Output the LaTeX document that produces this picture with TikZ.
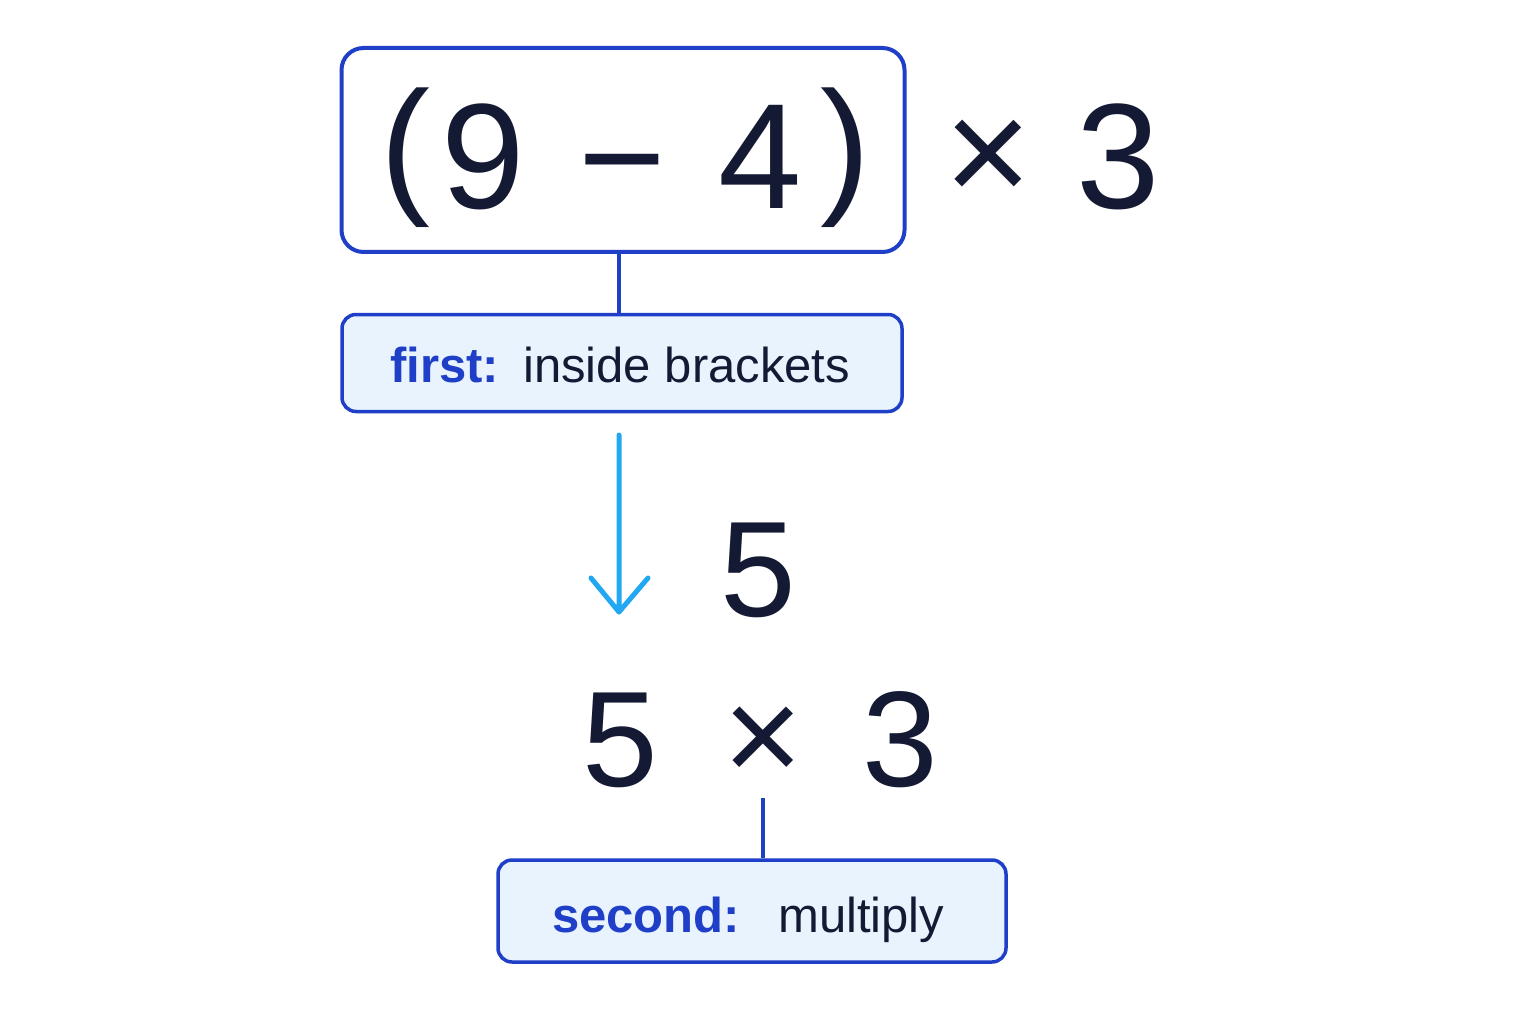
\documentclass[tikz,border=0pt]{standalone}
\usepackage{fontspec}
\setmainfont{Liberation Sans}
\begin{document}
\begin{tikzpicture}[x=1pt,y=-1pt,
  dk/.style={text=ink},
  big/.style={dk,font=\fontsize{150}{160}\selectfont,inner sep=0},
  mid/.style={dk,font=\fontsize{136}{140}\selectfont,inner sep=0},
  lab/.style={draw=bblue,line width=3.5pt,rounded corners=14pt,fill=lblue},
  conn/.style={draw=bblue,line width=3.5pt},
  txt/.style={font=\fontsize{49}{52}\selectfont,inner sep=0,anchor=base west}]
\definecolor{ink}{HTML}{141A33}
\definecolor{bblue}{HTML}{1F3FC8}
\definecolor{lblue}{HTML}{E9F3FD}
\definecolor{sky}{HTML}{22A8F2}
\useasboundingbox[fill=white] (0,0) rectangle (1536,1024);
% top box
\node[draw=bblue,line width=4pt,rounded corners=22pt,fill=white,minimum width=563pt,minimum height=204pt] (b1) at (623,150) {};
\node[big] (p1) at (405,158) {(};
\node[big] (n9) at (483,157) {9};
\node[big,anchor=base] (mn) at (622,210) {−};
\node[big] (n4) at (760,157) {4};
\node[big] (p2) at (845,158) {)};
\node[big] (tx) at (988,162) {×};
\node[big] (t3) at (1118,157) {3};
% label 1
\node[lab,minimum width=560pt,minimum height=97pt] (l1) at (622,363) {};
\node[txt,text=bblue] (f1) at (390,382) {\bfseries first:};
\node[txt,text=ink] (f2) at (523,382) {inside brackets};
\draw[conn] (b1.south -| 619,0) -- (l1.north -| 619,0);
% arrow
\coordinate (a1) at (619,435);
\coordinate (a2) at (619,612);
\draw[sky,line width=5pt,line cap=round,line join=round] (a1) -- (a2) (591,578) -- (a2) -- (648,578);
\node[mid] (r5) at (758,570) {5};
% second line
\node[mid] (s5) at (620,740) {5};
\node[mid] (sx) at (763,745) {×};
\node[mid] (s3) at (900,740) {3};
\node[lab,minimum width=508pt,minimum height=102pt] (l2) at (752,911) {};
\coordinate (c1) at (763,798);
\draw[conn] (c1) -- (c1 |- l2.north);
\node[txt,text=bblue] (g1) at (552,932) {\bfseries second:};
\node[txt,text=ink] (g2) at (778,932) {multiply};
\end{tikzpicture}
\end{document}
